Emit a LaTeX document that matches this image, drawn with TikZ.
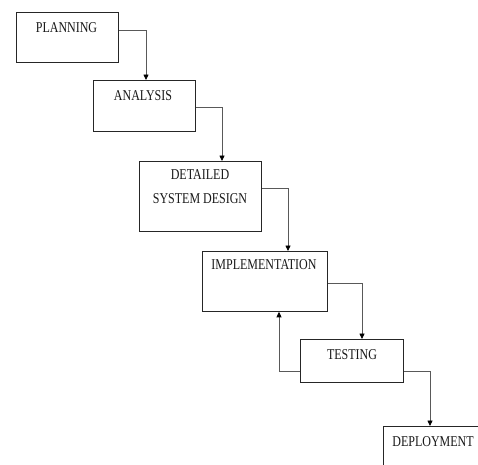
\documentclass[tikz,border=0pt]{standalone}
\usepackage{fontspec}
\setmainfont{Liberation Serif}[FakeStretch=0.8]
\usetikzlibrary{arrows.meta}
\begin{document}
\begin{tikzpicture}[x=1pt,y=-1pt,
  box/.style={draw=black!85,line width=0.8pt,rectangle,inner sep=0pt,anchor=north west},
  txt/.style={inner sep=0pt,text=black!90,font=\fontsize{15}{17}\selectfont},
  conn/.style={draw=black!65,line width=0.8pt,-{Triangle[length=5.5pt,width=5pt,color=black]}}]
\useasboundingbox (0,0) rectangle (478,464);
\clip (0,0) rectangle (478,464);
\fill[white] (0,0) rectangle (478,464);
% boxes
\node[box,minimum width=102pt,minimum height=50pt] (P) at (16,12) {};
\node[box,minimum width=102pt,minimum height=51pt] (A) at (93,80) {};
\node[box,minimum width=122pt,minimum height=70pt] (D) at (139,161) {};
\node[box,minimum width=125pt,minimum height=60pt] (I) at (202,251) {};
\node[box,minimum width=103pt,minimum height=43pt] (T) at (300,339) {};
\node[box,minimum width=110pt,minimum height=60pt] (Y) at (383,426) {};
% texts
\node[txt] (Pt) at (66.5,28) {PLANNING};
\node[txt] (At) at (143,96) {ANALYSIS};
\node[txt] (Dt1) at (200,175) {DETAILED};
\node[txt] (Dt2) at (200,199) {SYSTEM DESIGN};
\node[txt] (It) at (264,265) {IMPLEMENTATION};
\node[txt] (Tt) at (352,355) {TESTING};
\node[txt] (Yt) at (433,442) {DEPLOYMENT};
% connectors
\draw[conn] ([yshift=-18pt]P.north east) -| ([xshift=53pt]A.north west);
\draw[conn] ([yshift=-27pt]A.north east) -| ([xshift=83pt]D.north west);
\draw[conn] ([yshift=-27pt]D.north east) -| ([xshift=86pt]I.north west);
\draw[conn] ([yshift=-32pt]I.north east) -| ([xshift=62pt]T.north west);
\draw[conn] ([yshift=-32pt]T.north east) -| ([xshift=47pt]Y.north west);
\draw[conn] ([yshift=-32pt]T.north west) -| ([xshift=77pt]I.south west);
\end{tikzpicture}
\end{document}
